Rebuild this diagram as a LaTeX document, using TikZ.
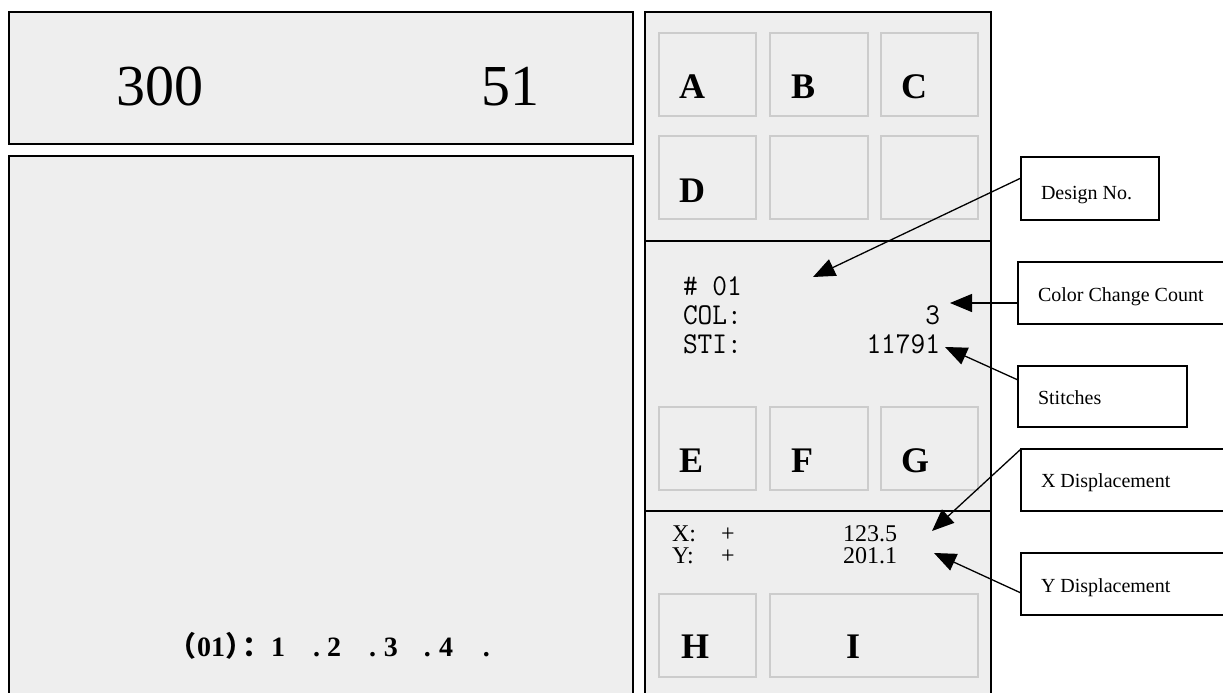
\documentclass[tikz,border=0pt]{standalone}
\usepackage{fontspec}
\setmainfont{Liberation Serif}
\newfontfamily\cjkfont{Noto Sans CJK SC}
\usetikzlibrary{arrows.meta}
\definecolor{panelgray}{HTML}{EEEEEE}
\definecolor{btngray}{HTML}{CCCCCC}
\newcommand{\monoline}[1]{\hbox{\scalebox{1.02}[1.08]{\makebox[252pt][l]{#1}}}}
\newcommand{\tok}[2]{\makebox[#1][l]{#2}}
\begin{document}
\begin{tikzpicture}[x=1pt,y=-1pt,
  panel/.style={draw=black,line width=1.5pt,fill=panelgray,inner sep=0pt,outer sep=0pt,anchor=north west},
  btn/.style={draw=btngray,line width=1.5pt,fill=panelgray,inner sep=0pt,outer sep=0pt,anchor=north west,minimum height=83pt},
  callout/.style={draw=black,line width=1.3pt,fill=white,inner sep=0pt,outer sep=0pt,anchor=north west},
  txt/.style={inner sep=0pt,outer sep=0pt,anchor=base west},
  big/.style={txt,font=\fontsize{58}{58}\selectfont},
  lbl/.style={txt,font=\bfseries\fontsize{36}{36}\selectfont},
  monotxt/.style={txt,font=\ttfamily\fontsize{28}{29}\selectfont},
  xytxt/.style={txt,font=\fontsize{24}{24}\selectfont,text height=17pt,text depth=1pt},
  ctxt/.style={txt,font=\fontsize{20}{20}\selectfont},
  bot/.style={txt,font=\bfseries\fontsize{28}{28}\selectfont},
  pointer/.style={line width=1.3pt,-{Triangle[length=22pt,width=18pt]}}]
\useasboundingbox (0,0) rectangle (1223,693);
\clip (0,0) rectangle (1223,693);
\fill[white] (0,0) rectangle (1223,693);

% panels
\node[panel,minimum width=624pt,minimum height=132pt] (top) at (9,12) {};
\node[panel,minimum width=624pt,minimum height=560pt] (screen) at (9,156) {};
\node[panel,minimum width=346pt,minimum height=700pt] (side) at (645,12) {};
\coordinate (d1) at (0,241);
\coordinate (d2) at (0,511);
\draw[line width=1.5pt] (side.west |- d1) -- (side.east |- d1);
\draw[line width=1.5pt] (side.west |- d2) -- (side.east |- d2);

% top numbers
\node[big] (n300) at (116,105) {300};
\node[big] (n51) at (481,105) {51};

% buttons
\node[btn,minimum width=97pt] (bA) at (659,33) {};
\node[btn,minimum width=98pt] (bB) at (770,33) {};
\node[btn,minimum width=97pt] (bC) at (881,33) {};
\node[btn,minimum width=97pt] (bD) at (659,136) {};
\node[btn,minimum width=98pt] (bD2) at (770,136) {};
\node[btn,minimum width=97pt] (bD3) at (881,136) {};
\node[btn,minimum width=97pt] (bE) at (659,407) {};
\node[btn,minimum width=98pt] (bF) at (770,407) {};
\node[btn,minimum width=97pt] (bG) at (881,407) {};
\node[btn,minimum width=97pt] (bH) at (659,594) {};
\node[btn,minimum width=208pt] (bI) at (770,594) {};

\node[lbl] (lA) at (679,98) {A};
\node[lbl] (lB) at (791,98) {B};
\node[lbl] (lC) at (901,98) {C};
\node[lbl] (lD) at (679,202) {D};
\node[lbl] (lE) at (679,472) {E};
\node[lbl] (lF) at (791,472) {F};
\node[lbl] (lG) at (901,472) {G};
\node[lbl] (lH) at (681,658) {H};
\node[lbl] (lI) at (846,658) {I};

% design info
\node[monotxt] (info) at (683,295) {\vtop{\baselineskip=29pt\lineskiplimit=-100pt\lineskip=0pt
  \monoline{\# 01}
  \monoline{COL:\hfill 3}
  \monoline{STI:\hfill 11791}}};

% displacement
\node[xytxt] (x1) at (672,541) {X:};
\node[xytxt] (x2) at (721,541) {+};
\node[xytxt] (x3) at (843,541) {123.5};
\node[xytxt] (y1) at (672,563) {Y:};
\node[xytxt] (y2) at (721,563) {+};
\node[xytxt] (y3) at (843,563) {201.1};

% bottom line
\node[bot] (seq) at (168,656) {\tok{29pt}{\cjkfont （}\tok{28pt}{01}\tok{25pt}{\cjkfont ）}\tok{21pt}{\makebox[12pt][c]{\cjkfont ：}}\tok{42pt}{1}\tok{14pt}{.}\tok{42pt}{2}\tok{15pt}{.}\tok{40pt}{3}\tok{15pt}{.}\tok{44pt}{4}.};

% callouts
\node[callout,minimum width=138pt,minimum height=63pt] (dn) at (1021,157) {};
\node[callout,minimum width=215pt,minimum height=62pt] (ccc) at (1018,262) {};
\node[callout,minimum width=169pt,minimum height=61pt] (st) at (1018,366) {};
\node[callout,minimum width=215pt,minimum height=62pt] (xd) at (1021,449) {};
\node[callout,minimum width=215pt,minimum height=62pt] (yd) at (1021,553) {};

\node[ctxt] (tdn) at (1041,199) {Design No.};
\node[ctxt] (tccc) at (1038,301) {Color Change Count};
\node[ctxt] (tst) at (1038,404) {Stitches};
\node[ctxt] (txd) at (1041,487) {X Displacement};
\node[ctxt] (tyd) at (1041,592) {Y Displacement};

% pointers
\coordinate (pDN) at (813,277);
\coordinate (pCCC) at (950,303);
\coordinate (pST) at (945,347);
\coordinate (pXD) at (932,531);
\coordinate (pYD) at (934,553);
\draw[pointer] ([yshift=10.5pt]dn.west) -- (pDN);
\draw[pointer] ([yshift=-10pt]ccc.west) -- (pCCC);
\draw[pointer] ([yshift=16.5pt]st.west) -- (pST);
\draw[pointer] (xd.north west) -- (pXD);
\draw[pointer] ([yshift=-9pt]yd.west) -- (pYD);
\end{tikzpicture}
\end{document}
